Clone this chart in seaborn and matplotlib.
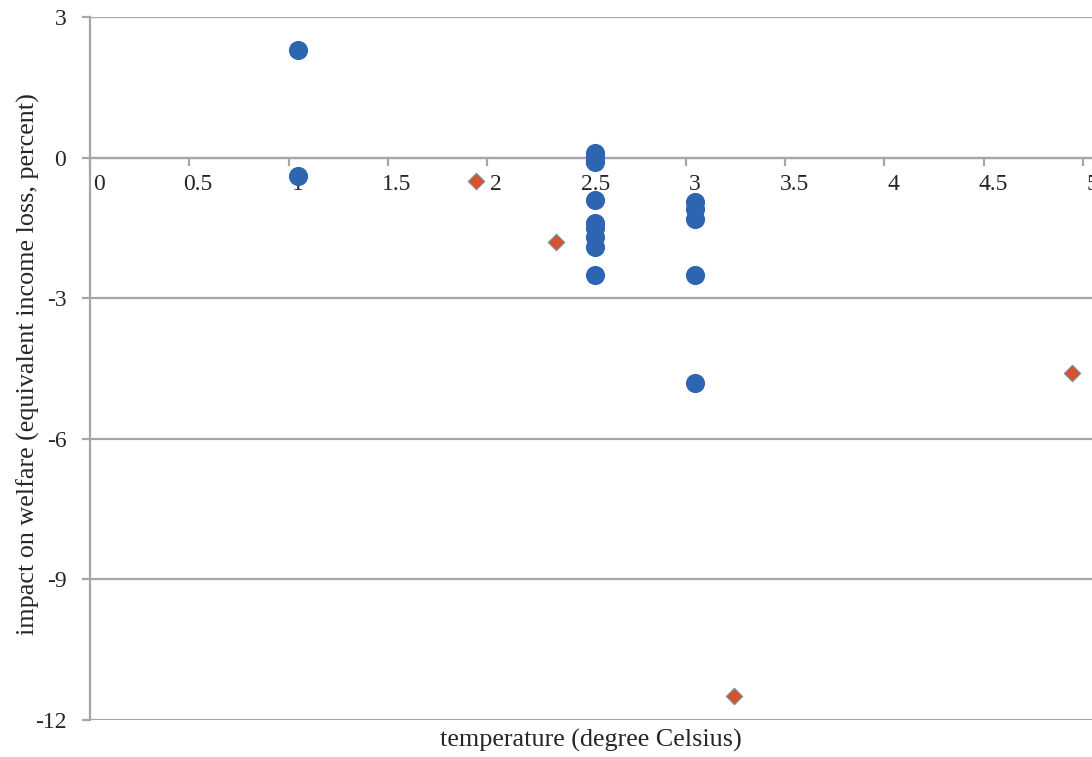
import matplotlib
matplotlib.use("Agg")
import matplotlib.pyplot as plt
import seaborn as sns
import pandas as pd

# survey estimates (blue circles)
survey_temp = [1.0, 1.0, 2.5, 2.5, 2.5, 2.5, 2.5, 2.5, 2.5, 2.5, 2.5, 3.0, 3.0, 3.0, 3.0, 3.0]
survey_impact = [2.3, -0.4, 0.1, 0.0, -0.1, -0.9, -1.4, -1.5, -1.7, -1.9, -2.5,
                 -0.95, -1.1, -1.3, -2.5, -4.8]

# newer estimates (orange diamonds)
new_temp = [1.9, 2.3, 3.2, 4.9]
new_impact = [-0.5, -1.8, -11.5, -4.6]

x_ticks = [0, 0.5, 1, 1.5, 2, 2.5, 3, 3.5, 4, 4.5, 5]
x_tick_labels = ["0", "0.5", "1", "1.5", "2", "2.5", "3", "3.5", "4", "4.5", "5"]
y_ticks = [-12, -9, -6, -3, 0, 3]

df_old = pd.DataFrame({"temp": survey_temp, "impact": survey_impact})
df_new = pd.DataFrame({"temp": new_temp, "impact": new_impact})

sns.set_style("white")
plt.rcParams["font.family"] = ["Liberation Serif", "DejaVu Serif"]

grey = "#A6A6A6"
shift = 0.045  # tick marks sit slightly left of the labels, Excel-style

fig = plt.figure(figsize=(10.92, 7.57), dpi=100)
ax = fig.add_axes([0.0824, 0.049, 1 - 0.0824, 0.9285])

sns.scatterplot(data=df_old, x="temp", y="impact", ax=ax, color="#2E65B0",
                s=190, edgecolor="#2E65B0", linewidth=0, zorder=3, clip_on=False)
sns.scatterplot(data=df_new, x="temp", y="impact", ax=ax, color="#D4532B",
                marker="D", s=70, edgecolor="#7F8FA6", linewidth=0.8, zorder=3,
                clip_on=False)

ax.set_xlim(-shift, 4.98)
ax.set_ylim(-12, 3)

# y axis
ax.set_yticks(y_ticks)
ax.set_yticklabels([str(v) for v in y_ticks])
ax.yaxis.grid(True, color=grey, linewidth=1.6)
ax.tick_params(axis="y", direction="out", length=6, width=1.6, color=grey,
               pad=11, labelsize=17, left=True)

# x axis through zero: marks as major ticks, labels as minor ticks
ax.spines["bottom"].set_position(("data", 0))
ax.set_xticks([v - shift for v in x_ticks])
ax.set_xticklabels([])
ax.set_xticks(x_ticks, minor=True)
ax.set_xticklabels(x_tick_labels, minor=True)
ax.tick_params(axis="x", which="major", direction="out", length=6, width=1.6,
               color=grey, bottom=True)
ax.tick_params(axis="x", which="minor", length=0, pad=12, labelsize=17)

for side in ["top", "right"]:
    ax.spines[side].set_visible(False)
for side in ["left", "bottom"]:
    ax.spines[side].set_color(grey)
    ax.spines[side].set_linewidth(1.6)

ax.set_xlabel("")
ax.set_ylabel("impact on welfare (equivalent income loss, percent)", fontsize=18.8)
ax.yaxis.set_label_coords(-0.05, 0.506)
ax.text(0.5, -0.013, "temperature (degree Celsius)", transform=ax.transAxes,
        ha="center", va="top", fontsize=18.8)

fig.savefig("out.png", dpi=100)
